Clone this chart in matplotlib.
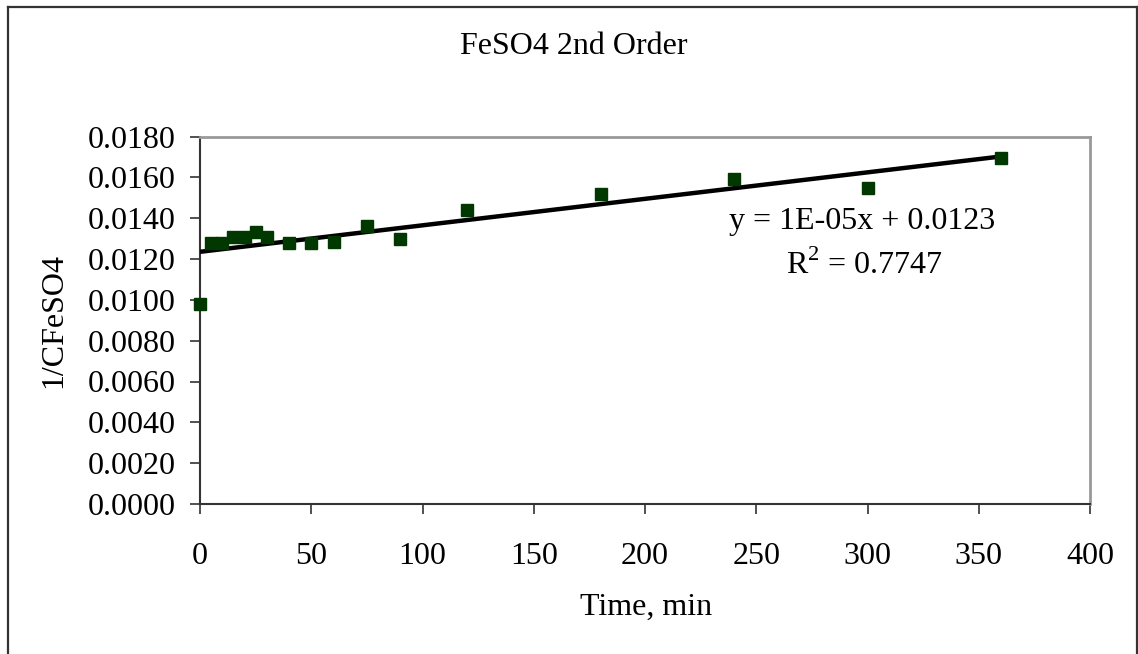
import numpy as np
import matplotlib
matplotlib.use("Agg")
import matplotlib.pyplot as plt
from matplotlib.patches import Rectangle

# Reaction time (min) and reciprocal FeSO4 concentration
time_min = [0, 5, 10, 15, 20, 25, 30, 40, 50, 60, 75, 90, 120, 180, 240, 300, 360]
inv_conc = [0.0098, 0.0128, 0.0128, 0.0131, 0.0131, 0.0133, 0.0131, 0.0128, 0.0128,
            0.01285, 0.0136, 0.0130, 0.0144, 0.0152, 0.0159, 0.0155, 0.01695]

x_ticks = [0, 50, 100, 150, 200, 250, 300, 350, 400]
y_ticks = [0.0000, 0.0020, 0.0040, 0.0060, 0.0080, 0.0100, 0.0120, 0.0140, 0.0160, 0.0180]

title = "FeSO4 2nd Order"
x_label = "Time, min"
y_label = "1/CFeSO4"
eq_text = "y = 1E-05x + 0.0123"
r2_text = "R$^2$ = 0.7747"

plt.rcParams["font.family"] = ["Liberation Serif", "DejaVu Serif"]
plt.rcParams["mathtext.fontset"] = "custom"
plt.rcParams["mathtext.rm"] = "Liberation Serif"

W, H = 1138, 654
fig = plt.figure(figsize=(W / 100, H / 100), dpi=100)
fig.patch.set_facecolor("white")

# Outer chart frame (open at the bottom)
fig.add_artist(plt.Line2D([8 / W, 8 / W], [0, 1 - 7 / H], color="#333333", lw=1.6,
                          transform=fig.transFigure))
fig.add_artist(plt.Line2D([8 / W, 1136.5 / W], [1 - 7 / H, 1 - 7 / H], color="#333333", lw=1.6,
                          transform=fig.transFigure))
fig.add_artist(plt.Line2D([1136.5 / W, 1136.5 / W], [0, 1 - 7 / H], color="#333333", lw=1.6,
                          transform=fig.transFigure))

left, right, top, bottom = 200, 1090, 136.5, 504
ax = fig.add_axes([left / W, 1 - bottom / H, (right - left) / W, (bottom - top) / H])

xs = np.array(time_min, dtype=float)
ys = np.array(inv_conc, dtype=float)
slope, intercept = np.polyfit(xs, ys, 1)
xl = np.array([xs.min(), xs.max()])
ax.plot(xl, slope * xl + intercept, color="black", lw=3.2, solid_capstyle="butt", zorder=3)

ax.plot(xs, ys, linestyle="none", marker="s", markersize=8, color="#003800",
        markeredgecolor="#003800", zorder=4, clip_on=False)

ax.set_xlim(0, 400)
ax.set_ylim(0, 0.018)
ax.set_xticks(x_ticks)
ax.set_yticks(y_ticks)
ax.set_xticklabels([str(v) for v in x_ticks])
ax.set_yticklabels([f"{v:.4f}" for v in y_ticks])

fs = 23
ax.tick_params(axis="both", labelsize=fs, direction="out", length=7.5, width=1.2,
               color="#333333")
ax.tick_params(axis="y", pad=10)
ax.tick_params(axis="x", pad=20)

for side in ("top", "right"):
    ax.spines[side].set_color("#999999")
    ax.spines[side].set_linewidth(2)
for side in ("left", "bottom"):
    ax.spines[side].set_color("#333333")
    ax.spines[side].set_linewidth(1.5)

fig.text(573.5 / W, 1 - 47 / H, title, ha="center", va="center", fontsize=fs)
fig.text(646 / W, 1 - 607 / H, x_label, ha="center", va="center", fontsize=fs)
fig.text(54 / W, 1 - 320 / H, y_label, ha="center", va="center", fontsize=fs, rotation=90)

ax.text(862 / W, 1 - 222 / H, eq_text, transform=fig.transFigure, ha="center",
        va="center", fontsize=fs)
ax.text(864 / W, 1 - 265 / H, r2_text, transform=fig.transFigure, ha="center",
        va="center", fontsize=fs)

fig.savefig("out.png", dpi=100, facecolor="white")
